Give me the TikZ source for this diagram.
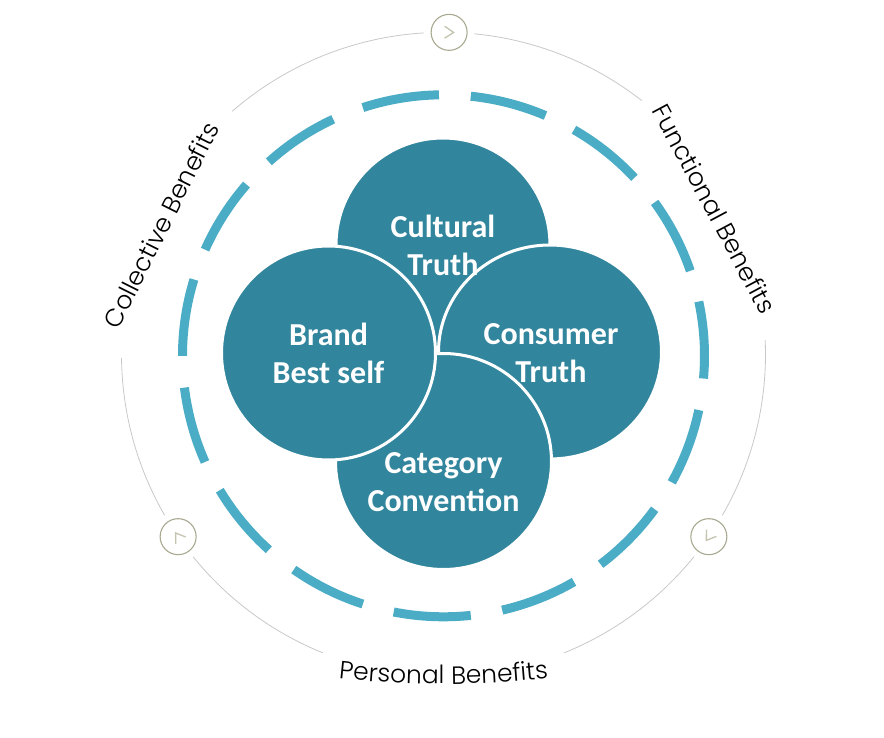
\documentclass[tikz,border=0pt]{standalone}
\usepackage{fontspec}
\usetikzlibrary{shapes,positioning,decorations.text}
\newfontfamily\petalfont{Carlito}
\newfontfamily\labelfont{Poppins Light}
\definecolor{petalteal}{HTML}{31859C}
\definecolor{ringcyan}{HTML}{4BACC6}
\definecolor{ringgrey}{HTML}{C8C8C8}
\definecolor{knobline}{HTML}{A9A991}
\definecolor{knobmark}{HTML}{C4C4B0}

\begin{document}
\begin{tikzpicture}[x=1pt, y=1pt]
    \tikzstyle{petal} = [circle, draw=white, line width=3pt, fill=petalteal, inner sep=0pt, minimum size=214pt]
    \tikzstyle{petaltext} = [text=white, align=center, font=\petalfont\bfseries\fontsize{32}{38}\selectfont]
    \tikzstyle{ringdash} = [ringcyan, line width=9pt]
    \tikzstyle{outerring} = [ringgrey, line width=0.8pt]
    \tikzstyle{knob} = [circle, draw=knobline, line width=1.1pt, fill=white, minimum size=36pt, inner sep=0pt]
    \tikzstyle{chevron} = [knobmark, line width=1.3pt]
    \tikzstyle{benefit} = [font=\labelfont\fontsize{25}{25}\selectfont, inner sep=0pt]

    \useasboundingbox (-443.5,-382.7) rectangle (440.5,354.3);
    \coordinate (hub) at (0,0);
    \coordinate (dashhub) at (0,-1.5);

    % outer ring, broken at the labels and the knobs
    \foreach \a/\b in {52/84.5, 93.5/131, 180.7/210, 219/248, 292/321, 330/362.5}
        \draw [outerring] ([shift={(\a:322pt)}]hub) arc (\a:\b:322pt);

    % dashed ring
    \foreach \k in {0,...,14}
        \draw [ringdash] ([shift={(91+24*\k:261pt)}]dashhub) arc (91+24*\k:108+24*\k:261pt);

    % the four petals
    \node (cultural) [petal] at (-0.5,109.3) {};
    \node (consumer) [petal, ellipse, minimum width=223pt, minimum height=214pt] at (106.5,2.3) {};
    \node (category) [petal, minimum size=216pt] at (0,-107.2) {};
    \node (brand) [petal] at (-115,1.3) {};

    \node (culturaltext) [petaltext] at (cultural.center) {Cultural\\Truth};
    \node (brandtext) [petaltext] at (brand.center) {Brand\\Best self};
    \node (consumertext) [petaltext] at ([xshift=1pt,yshift=-1pt]consumer.center) {Consumer\\Truth};
    \node (categorytext) [petaltext] at ([yshift=-20.5pt]category.center) {Category\\Convention};

    % knobs on the outer ring
    \node (knobtop) [knob] at (89:322pt) {};
    \node (knobleft) [knob] at (214.5:322pt) {};
    \node (knobright) [knob] at (325.5:322pt) {};
    \foreach \n/\r in {knobtop/-1, knobleft/124.5, knobright/235.5}
        \draw [chevron, shift={(\n.center)}, rotate=\r] (-4.5,6) -- (4.5,0) -- (-4.5,-6);

    % labels
    \node (collective) [benefit, rotate=63.4] at (-282.5,129.3) {Collective Benefits};
    \node (functional) [benefit, rotate=-61.9] at (271,145.8) {Functional Benefits};
    \path [decorate, decoration={text along path, text align=center,
        text={|\labelfont\fontsize{25}{25}\selectfont|Personal Benefits}}]
        (-150,-318) .. controls (-50,-333.6) and (50,-333.6) .. (150,-318);

\end{tikzpicture}
\end{document}
